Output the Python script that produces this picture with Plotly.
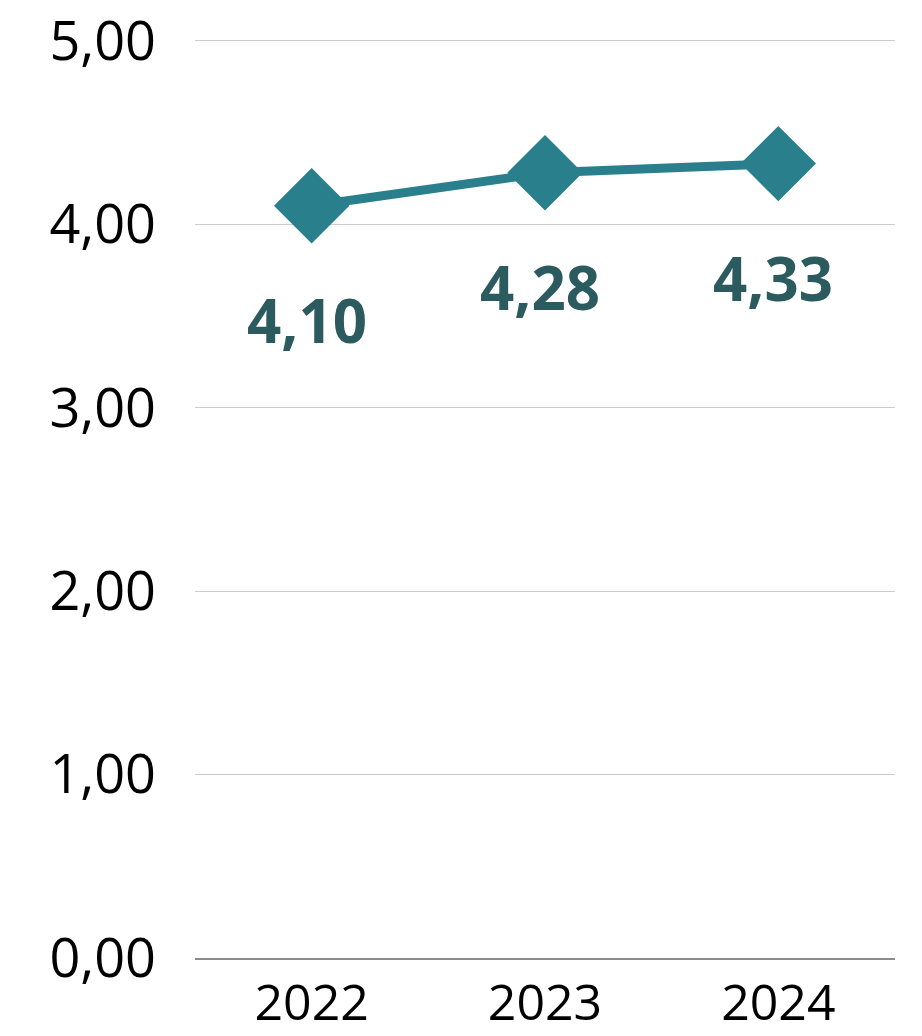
import plotly.graph_objects as go

years = ["2022", "2023", "2024"]
values = [4.10, 4.28, 4.33]
value_labels = ["4,10", "4,28", "4,33"]
y_ticks = [0, 1, 2, 3, 4, 5]
y_tick_labels = ["0,00", "1,00", "2,00", "3,00", "4,00", "5,00"]

LINE = "#2a7f8c"
LABEL = "#2b5a5f"
FONT = "Open Sans"

fig = go.Figure()
fig.add_trace(go.Scatter(
    x=years, y=values, mode="lines+markers",
    line=dict(color=LINE, width=9),
    marker=dict(symbol="diamond", size=58, color=LINE),
    hoverinfo="skip", showlegend=False,
))

for i, (v, t) in enumerate(zip(values, value_labels)):
    fig.add_annotation(
        x=i, y=v, xref="x", yref="y", text=t, showarrow=False,
        yshift=-114, xshift=-5,
        font=dict(family=FONT, size=60, color=LABEL, weight="bold"),
    )

fig.update_layout(
    width=922, height=1036,
    margin=dict(l=195, r=27, t=37, b=78, autoexpand=False),
    paper_bgcolor="white", plot_bgcolor="white",
    font=dict(family=FONT, color="#000000"),
)
fig.update_xaxes(
    type="category", range=[-0.5, 2.5], automargin=False,
    showgrid=False, showline=True, linecolor="#8c8c8c", linewidth=1.5,
    ticks="", tickfont=dict(size=50, family=FONT), ticklabelstandoff=0,
)
fig.update_yaxes(
    range=[0, 5.02], tickvals=y_ticks, ticktext=y_tick_labels, automargin=False,
    showgrid=True, gridcolor="#cccccc", gridwidth=1,
    zeroline=False, showline=False, ticks="",
    tickfont=dict(size=54, family=FONT), ticklabelstandoff=38,
)

fig.write_html("out.html", config={"displayModeBar": False},
               post_script="document.body.style.margin='0';")
